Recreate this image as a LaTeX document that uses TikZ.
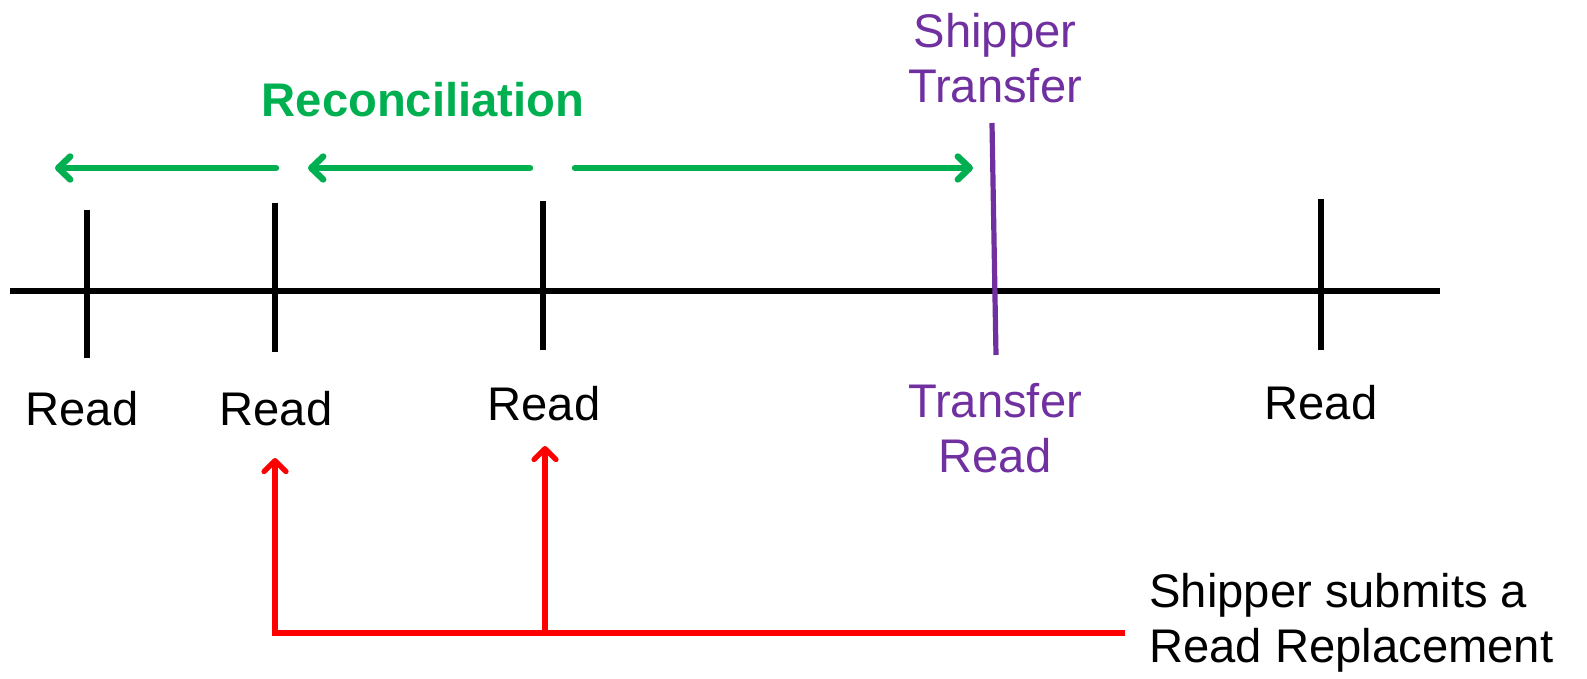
\documentclass[tikz,border=0pt]{standalone}
\usepackage{fontspec}
\setmainfont{Liberation Sans}
\usetikzlibrary{arrows.meta}
\definecolor{recgreen}{HTML}{00B050}
\definecolor{trpurple}{HTML}{7030A0}
\definecolor{repred}{HTML}{FF0000}
\tikzset{
  lbl/.style={font=\fontsize{23.6}{27.5}\selectfont, inner sep=0pt, align=center},
  tick/.style={line width=2.6pt, black},
  axis/.style={line width=2.6pt, black},
  recarrow/.style={line width=3.2pt, recgreen, line cap=round, -{Straight Barb[length=6pt, width=11.5pt, line cap=round, line join=round]}},
  reparrow/.style={line width=2.6pt, repred, -{Straight Barb[length=5.5pt, width=11pt, line cap=round, line join=round]}},
}
\begin{document}
\begin{tikzpicture}[x=0.5pt,y=-0.5pt]
\useasboundingbox (0,0) rectangle (1587,679);
% timeline
\coordinate (axL) at (10,291);
\coordinate (axR) at (1440,291);
\draw[axis] (axL) -- (axR);
% ticks
\coordinate (t1a) at (87,210); \coordinate (t1b) at (87,358);
\coordinate (t2a) at (275,203); \coordinate (t2b) at (275,352);
\coordinate (t3a) at (543,201); \coordinate (t3b) at (543,350);
\coordinate (t5a) at (1321,199); \coordinate (t5b) at (1321,350);
\draw[tick] (t1a) -- (t1b);
\draw[tick] (t2a) -- (t2b);
\draw[tick] (t3a) -- (t3b);
\draw[tick] (t5a) -- (t5b);
% purple transfer line
\coordinate (t4a) at (992,123); \coordinate (t4b) at (996,355);
\draw[line width=2.6pt, trpurple] (t4a) -- (t4b);
% green arrows
\coordinate (g1s) at (276,168); \coordinate (g1e) at (55,168);
\coordinate (g2s) at (530,168); \coordinate (g2e) at (308,168);
\coordinate (g3s) at (575,168); \coordinate (g3e) at (973,168);
\draw[recarrow] (g1s) -- (g1e);
\draw[recarrow] (g2s) -- (g2e);
\draw[recarrow] (g3s) -- (g3e);
% labels
\node[lbl, anchor=base, text=recgreen, font=\fontsize{23.6}{27.5}\selectfont\bfseries] (rec) at (423,117) {Reconciliation};
\node[lbl, anchor=base, text=trpurple] (shtr) at (995,103) {Shipper\\Transfer};
\node[lbl, anchor=base, text=trpurple] (trrd) at (995,473) {Transfer\\Read};
\node[lbl, anchor=base] (r1) at (82,426) {Read};
\node[lbl, anchor=base] (r2) at (276,426) {Read};
\node[lbl, anchor=base] (r3) at (544,421) {Read};
\node[lbl, anchor=base] (r5) at (1321,420) {Read};
\node[lbl, anchor=base west, align=left] (sub) at (1149,662) {Shipper submits a\\Read Replacement};
% red connector
\coordinate (rL) at (272,633);
\coordinate (rM) at (545,633);
\coordinate (rR) at (1125,633);
\coordinate (rA1) at (275,458);
\coordinate (rA2) at (545,446);
\draw[line width=2.6pt, repred] (rL) -- (rR);
\draw[reparrow] (rL -| rA1) -- (rA1);
\draw[reparrow] (rM) -- (rA2);
\end{tikzpicture}
\end{document}
